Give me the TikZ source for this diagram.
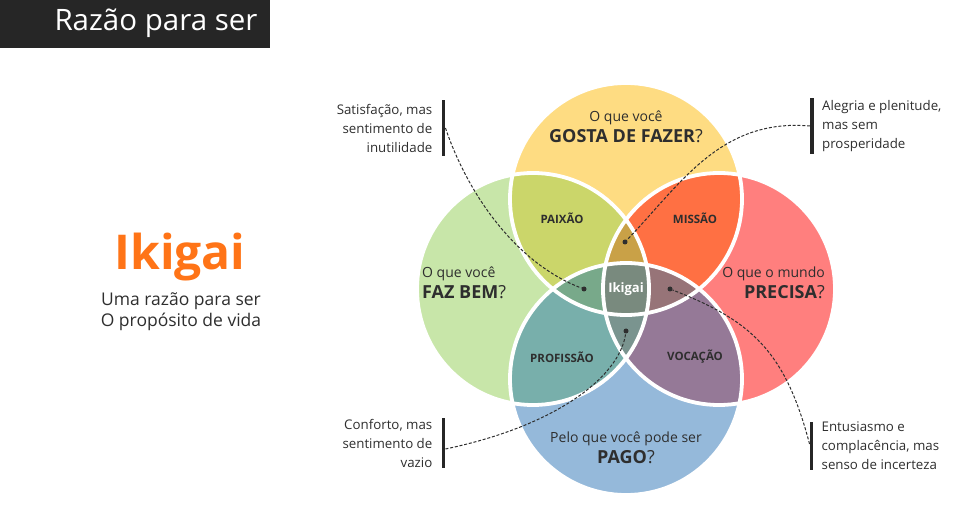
\documentclass[tikz,border=0pt]{standalone}
\usepackage{fontspec}
\setmainfont{Open Sans}
\usepackage{tikz}
\usetikzlibrary{positioning}

\definecolor{cGosta}{HTML}{FEDC82}
\definecolor{cFaz}{HTML}{C8E6A9}
\definecolor{cPrecisa}{HTML}{FF7F7E}
\definecolor{cPago}{HTML}{95B9DA}
\definecolor{cPaixao}{HTML}{CBD66A}
\definecolor{cMissao}{HTML}{FF7043}
\definecolor{cProfissao}{HTML}{78AFAB}
\definecolor{cVocacao}{HTML}{957997}
\definecolor{cTop}{HTML}{C9A147}
\definecolor{cLeft}{HTML}{78A98A}
\definecolor{cRight}{HTML}{977478}
\definecolor{cBottom}{HTML}{7A948F}
\definecolor{cIkigai}{HTML}{798A7E}
\definecolor{ink}{HTML}{2E2E2E}
\definecolor{barra}{HTML}{262626}
\definecolor{laranja}{HTML}{FF7417}

\begin{document}
\begin{tikzpicture}[x=1pt,y=-1pt,
        ask/.style={text=ink,inner sep=0pt,font=\fontsize{14}{21}\selectfont},
        region/.style={text=ink,inner sep=0pt,font=\fontsize{11.5}{13}\selectfont\bfseries},
        note/.style={text=ink,inner sep=0pt,font=\fontsize{13.3}{19}\selectfont},
        notebar/.style={fill=barra,minimum width=3.5pt,inner sep=0pt},
        dot/.style={circle,fill=ink,inner sep=0pt,minimum size=5pt},
        link/.style={ink,line width=1pt,dash pattern=on 3pt off 1.8pt}]
    \def\r{116}
    \useasboundingbox (0,0) rectangle (954,505);

    % title bar
    \fill[barra] (0,0) rectangle (270,48);
    \node[text=white,inner sep=0pt,font=\fontsize{29.5}{32}\selectfont] (title) at (156,23) {Razão para ser};

    \node[text=laranja,inner sep=0pt,font=\fontsize{48}{50}\selectfont\bfseries] (ikigai) at (180,257) {Ikigai};
    \node[text=ink,inner sep=0pt,align=center,font=\fontsize{17.5}{21}\selectfont] (sub) at (181,312) {Uma razão para ser\\O propósito de vida};

    % the four circles
    \coordinate (Y) at (626,199);
    \coordinate (G) at (533,289);
    \coordinate (R) at (719,289);
    \coordinate (B) at (626,379);
    \foreach \c/\col in {Y/cGosta,G/cFaz,R/cPrecisa,B/cPago}
      \fill[\col] (\c) circle[radius=\r];
    \begin{scope}
      \clip (Y) circle[radius=\r];
      \fill[cPaixao] (G) circle[radius=\r];
      \fill[cMissao] (R) circle[radius=\r];
    \end{scope}
    \begin{scope}
      \clip (B) circle[radius=\r];
      \fill[cProfissao] (G) circle[radius=\r];
      \fill[cVocacao] (R) circle[radius=\r];
    \end{scope}
    \begin{scope}
      \clip (G) circle[radius=\r];
      \clip (R) circle[radius=\r];
      \fill[cTop] (Y) circle[radius=\r];
      \fill[cBottom] (B) circle[radius=\r];
    \end{scope}
    \begin{scope}
      \clip (Y) circle[radius=\r];
      \clip (B) circle[radius=\r];
      \fill[cLeft] (G) circle[radius=\r];
      \fill[cRight] (R) circle[radius=\r];
      \clip (G) circle[radius=\r];
      \fill[cIkigai] (R) circle[radius=\r];
    \end{scope}
    \foreach \c in {Y,G,R,B}
      \draw[white,line width=3.8pt] (\c) circle[radius=\r];

    % questions
    \node[ask,align=center] (gosta) at (626,127) {O que você\\{\fontsize{18}{21}\selectfont\textbf{GOSTA DE FAZER}?}};
    \node[ask,align=left,anchor=west] (faz) at (422,283) {O que você\\{\fontsize{18}{21}\selectfont\textbf{FAZ BEM}?}};
    \node[ask,align=right,anchor=east] (precisa) at (825,283) {O que o mundo\\{\fontsize{18}{21}\selectfont\textbf{PRECISA}?}};
    \node[ask,align=center] (pago) at (626,448) {Pelo que você pode ser\\{\fontsize{18}{21}\selectfont\textbf{PAGO}?}};

    \node[region] (paixao)    at (562,218) {PAIXÃO};
    \node[region] (missao)    at (695,218) {MISSÃO};
    \node[region] (profissao) at (562,357) {PROFISSÃO};
    \node[region] (vocacao)   at (695,357) {VOCAÇÃO};
    \node[region,text=white,font=\fontsize{13}{15}\selectfont\bfseries] (centro) at (626,289) {Ikigai};

    % notes
    \node[notebar,minimum height=56pt] (b_tl) at (443.5,128) {};
    \node[notebar,minimum height=56pt] (b_tr) at (812,126) {};
    \node[notebar,minimum height=50pt] (b_bl) at (443.5,443) {};
    \node[notebar,minimum height=48pt] (b_br) at (811.5,446) {};

    \node[note,align=right,left=9pt of b_tl] (n_tl) {Satisfação, mas\\sentimento de\\inutilidade};
    \node[note,align=left,right=8pt of b_tr] (n_tr) {Alegria e plenitude,\\mas sem\\prosperidade};
    \node[note,align=right,left=9pt of b_bl] (n_bl) {Conforto, mas\\sentimento de\\vazio};
    \node[note,align=left,right=8pt of b_br] (n_br) {Entusiasmo e\\complacência, mas\\senso de incerteza};

    \node[dot] (d_tl) at (584,289) {};
    \node[dot] (d_tr) at (625,242) {};
    \node[dot] (d_bl) at (626,331) {};
    \node[dot] (d_br) at (670,289) {};

    \draw[link] (b_tl.east) .. controls (470,200) and (520,265) .. (d_tl);
    \draw[link] (b_tr.west) .. controls (720,118) and (680,185) .. (d_tr);
    \draw[link] ([yshift=-6pt]b_bl.east) .. controls (560,425) and (620,375) .. (d_bl);
    \draw[link] ([yshift=2pt]b_br.west) .. controls (785,350) and (750,320) .. (d_br);
\end{tikzpicture}
\end{document}
